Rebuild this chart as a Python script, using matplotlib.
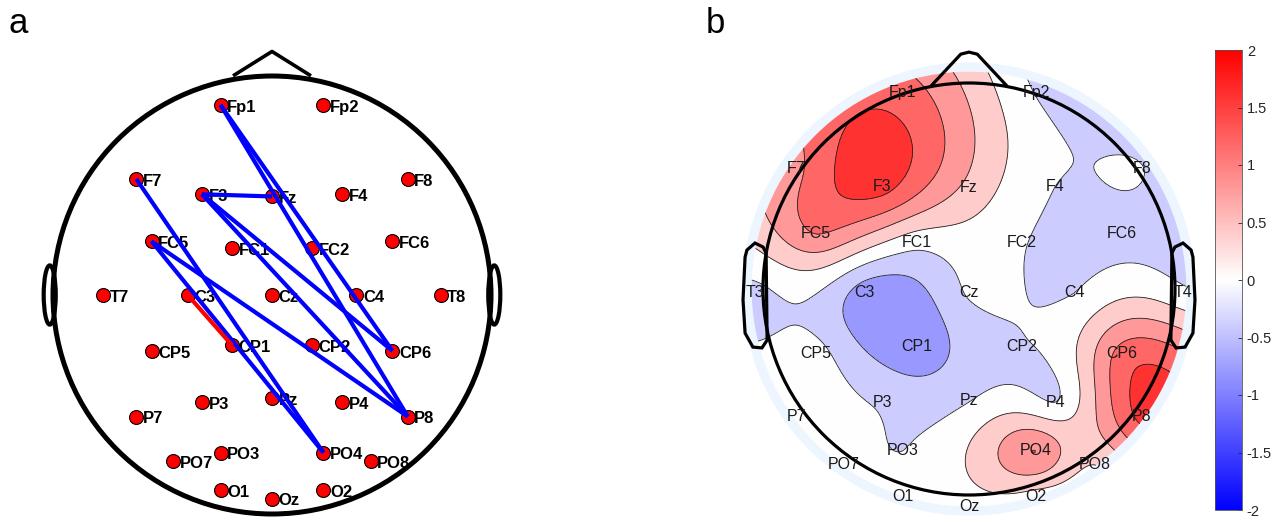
import numpy as np
import matplotlib.pyplot as plt
from matplotlib.patches import Circle, Ellipse, Polygon
from matplotlib.colors import Normalize
from matplotlib.cm import ScalarMappable

plt.rcParams['font.family'] = ['Liberation Sans', 'DejaVu Sans']

# channel names (left panel uses T7/T8, right panel T3/T4)
channels = ['Fp1', 'Fp2', 'F7', 'F3', 'Fz', 'F4', 'F8',
            'FC5', 'FC1', 'FC2', 'FC6',
            'T7', 'C3', 'Cz', 'C4', 'T8',
            'CP5', 'CP1', 'CP2', 'CP6',
            'P7', 'P3', 'Pz', 'P4', 'P8',
            'PO7', 'PO3', 'PO4', 'PO8',
            'O1', 'Oz', 'O2']
topo_labels = ['Fp1', 'Fp2', 'F7', 'F3', 'Fz', 'F4', 'F8',
               'FC5', 'FC1', 'FC2', 'FC6',
               'T3', 'C3', 'Cz', 'C4', 'T4',
               'CP5', 'CP1', 'CP2', 'CP6',
               'P7', 'P3', 'Pz', 'P4', 'P8',
               'PO7', 'PO3', 'PO4', 'PO8',
               'O1', 'Oz', 'O2']

# electrode layout of panel a (head radius = 1)
left_x = [-0.235, 0.235, -0.62, -0.32, 0.0, 0.32, 0.62,
          -0.55, -0.182, 0.182, 0.55,
          -0.77, -0.385, 0.0, 0.385, 0.77,
          -0.55, -0.182, 0.182, 0.55,
          -0.62, -0.32, 0.0, 0.32, 0.62,
          -0.45, -0.235, 0.235, 0.45,
          -0.235, 0.0, 0.235]
left_y = [0.868, 0.868, 0.53, 0.46, 0.45, 0.46, 0.53,
          0.245, 0.215, 0.215, 0.245,
          0.0, 0.0, 0.0, 0.0, 0.0,
          -0.255, -0.23, -0.23, -0.255,
          -0.555, -0.49, -0.47, -0.49, -0.555,
          -0.76, -0.72, -0.72, -0.76,
          -0.89, -0.93, -0.89]

# electrode layout of panel b (head radius = 1)
topo_x = [-0.325, 0.325, -0.838, -0.42, 0.0, 0.42, 0.838,
          -0.743, -0.255, 0.255, 0.743,
          -1.039, -0.51, 0.0, 0.51, 1.039,
          -0.743, -0.255, 0.255, 0.743,
          -0.838, -0.42, 0.0, 0.42, 0.838,
          -0.61, -0.323, 0.323, 0.61,
          -0.323, 0.0, 0.323]
topo_y = [0.955, 0.955, 0.585, 0.50, 0.495, 0.50, 0.585,
          0.267, 0.228, 0.228, 0.267,
          -0.019, -0.019, -0.019, -0.019, -0.019,
          -0.311, -0.277, -0.277, -0.311,
          -0.621, -0.549, -0.539, -0.549, -0.621,
          -0.854, -0.786, -0.786, -0.854,
          -1.005, -1.058, -1.005]

# channel values shown in the topography
values = [1.2, -0.22, 0.9, 1.55, 0.5, -0.2, -0.19,
          1.0, -0.05, -0.17, -0.3,
          -0.3, -0.8, -0.16, -0.2, -0.1,
          -0.08, -0.85, -0.22, 1.15,
          0.0, -0.25, -0.22, -0.2, 1.5,
          -0.1, -0.2, 1.0, 0.2,
          -0.1, 0.0, 0.05]

blue_links = [('Fp1', 'CP6'), ('Fp1', 'P8'), ('F3', 'Fz'), ('F3', 'CP6'),
              ('F3', 'P8'), ('F7', 'PO4'), ('FC5', 'PO4'), ('FC5', 'P8')]
red_links = [('C3', 'CP1')]

levels = np.arange(-2.2, 2.21, 0.4)
cbar_ticks = [-2, -1.5, -1, -0.5, 0, 0.5, 1, 1.5, 2]
cbar_labels = ['-2', '-1.5', '-1', '-0.5', '0', '0.5', '1', '1.5', '2']


def v4_interp(xe, ye, ve, xg, yg):
    # biharmonic spline (griddata 'v4' style)
    d = np.hypot(xe[:, None] - xe[None, :], ye[:, None] - ye[None, :])
    with np.errstate(divide='ignore', invalid='ignore'):
        g = d ** 2 * (np.log(d) - 1)
    g[d == 0] = 0
    w = np.linalg.solve(g, ve)
    dg = np.hypot(xg.ravel()[:, None] - xe[None, :], yg.ravel()[:, None] - ye[None, :])
    with np.errstate(divide='ignore', invalid='ignore'):
        gg = dg ** 2 * (np.log(dg) - 1)
    gg[dg == 0] = 0
    return (gg @ w).reshape(xg.shape)


fig = plt.figure(figsize=(12.82, 5.22), dpi=100)

# ---------- panel a ----------
ax1 = fig.add_axes([0, 0, 560 / 1282, 1])
cx, cy, R = 272, 295, 219
ax1.set_xlim(-cx / R, (560 - cx) / R)
ax1.set_ylim((cy - 522) / R, cy / R)
ax1.axis('off')

ax1.add_patch(Circle((0, 0), 1.0, fill=False, lw=3.6, ec='black', zorder=5))
ax1.plot([-0.171, 0, 0.171], [1.005, 1.112, 1.005], color='black', lw=2.6, zorder=5)
for s in (-1, 1):
    ax1.add_patch(Ellipse((s * 1.015, 0), 0.055, 0.27, fill=False, lw=3.0, ec='black', zorder=5))

ax1.plot(left_x, left_y, 'o', ms=10, mfc='red', mec='black', mew=0.8, zorder=2)
for name, x, y in zip(channels, left_x, left_y):
    ax1.text(x + 0.03, y - 0.01, name, fontsize=12, fontweight='bold',
             ha='left', va='center', zorder=3)

idx = {n: i for i, n in enumerate(channels)}
for a, b in blue_links:
    ax1.plot([left_x[idx[a]], left_x[idx[b]]], [left_y[idx[a]], left_y[idx[b]]],
             color='#0000ff', lw=3, solid_capstyle='butt', zorder=4)
for a, b in red_links:
    ax1.plot([left_x[idx[a]], left_x[idx[b]]], [left_y[idx[a]], left_y[idx[b]]],
             color='#ff0000', lw=3, solid_capstyle='butt', zorder=4)

# ---------- panel b ----------
ax2 = fig.add_axes([580 / 1282, 0, (1205 - 580) / 1282, 1])
cx2, cy2, R2 = 969, 289, 206
ax2.set_xlim((580 - cx2) / R2, (1205 - cx2) / R2)
ax2.set_ylim((cy2 - 522) / R2, cy2 / R2)
ax2.axis('off')

ax2.add_patch(Circle((0, 0), 1.1, fc=(0.93, 0.96, 1.0), ec='none', zorder=0))
rmap = 1.055
ax2.add_patch(Circle((0, 0), rmap, fc='white', ec='none', zorder=0.5))

gx, gy = np.meshgrid(np.linspace(-1.1, 1.1, 301), np.linspace(-1.1, 1.1, 301))
xe = np.array(topo_x)
ye = np.array(topo_y)
zg = v4_interp(xe, ye, np.array(values), gx, gy)
zg[np.hypot(gx, gy) > rmap + 0.02] = np.nan

norm = Normalize(-2, 2)
clip = Circle((0, 0), rmap, transform=ax2.transData)
cf = ax2.contourf(gx, gy, zg, levels=levels, cmap='bwr', norm=norm, extend='both', zorder=1)
cf.set_clip_path(clip)
cl = ax2.contour(gx, gy, zg, levels=levels, colors='#222222', linewidths=0.6,
                 linestyles='solid', zorder=2)
cl.set_clip_path(clip)

ax2.add_patch(Circle((0, 0), 1.0, fill=False, lw=2.3, ec='black', zorder=5))
ax2.plot([-0.18, -0.04, 0, 0.04, 0.18], [0.99, 1.14, 1.15, 1.14, 0.99],
         color='black', lw=2.3, zorder=5)
ear_x = [-1.078, -1.039, -1.0, -0.985, -0.98, -1.005, -1.049, -1.087, -1.097, -1.087]
ear_y = [0.189, 0.223, 0.204, 0.175, -0.248, -0.286, -0.282, -0.214, -0.053, 0.155]
for s in (-1, 1):
    ax2.add_patch(Polygon(np.column_stack([np.array(ear_x) * s, ear_y]), closed=True,
                          fill=False, lw=2.3, ec='black', zorder=5))

for name, x, y in zip(topo_labels, topo_x, topo_y):
    ax2.text(x, y, name, fontsize=11.5, ha='center', va='center', color='#1a1a1a', zorder=6)

# colorbar
cax = fig.add_axes([1215 / 1282, 12 / 522, 27 / 1282, 460 / 522])
cb = fig.colorbar(ScalarMappable(norm=norm, cmap='bwr'), cax=cax, ticks=cbar_ticks)
cb.ax.set_yticklabels(cbar_labels)
cb.ax.tick_params(direction='in', length=3, width=0.6, labelsize=10.5, colors='#262626')
cb.outline.set_linewidth(0.6)
cb.outline.set_edgecolor('#555555')

fig.text(8 / 1282, 1 - 33 / 522, 'a', fontsize=25, va='baseline')
fig.text(706 / 1282, 1 - 33 / 522, 'b', fontsize=25, va='baseline')

fig.savefig('out.png', dpi=100)
